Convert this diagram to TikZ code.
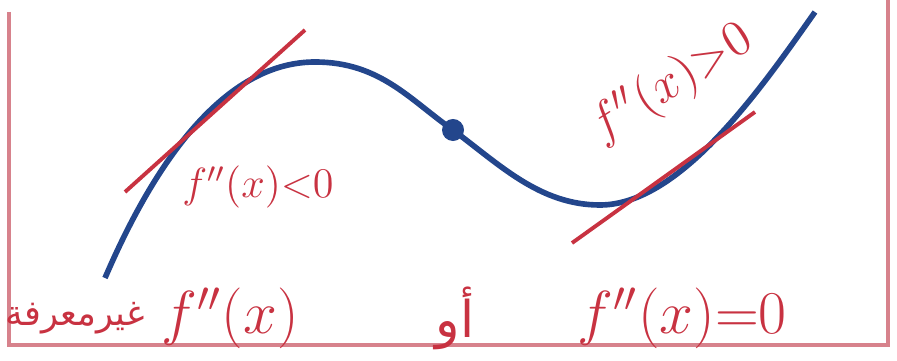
\documentclass[tikz,border=0pt]{standalone}
\usepackage{fontspec}
\usepackage{amsmath}
\newfontfamily\arabicfont[Script=Arabic]{DejaVu Sans}
\TeXXeTstate=1
\definecolor{inkred}{RGB}{200,50,65}
\definecolor{inkblue}{RGB}{35,70,140}
\definecolor{frame}{RGB}{215,130,140}
\usetikzlibrary{positioning}

\begin{document}
\begin{tikzpicture}[
  x=0.01cm, y=-0.01cm,
  curve/.style={inkblue, line width=1.6pt},
  tangent/.style={inkred, line width=1.1pt},
  lbl/.style={inkred, font=\LARGE, inner sep=0pt},
  dot/.style={circle, fill=inkblue, minimum size=2.2mm, inner sep=0pt}
]
\useasboundingbox (0,0) rectangle (897,361);
\draw[frame, line width=1pt] (9,12) -- (9,345) -- (888,345) -- (888,0);

% the S-shaped graph
\coordinate (start) at (105,278);
\coordinate (top) at (315,62);
\node[dot] (infl) at (453,130) {};
\coordinate (bottom) at (600,205);
\coordinate (end) at (815,12);
\draw[curve] (start) .. controls (160,150) and (230,62) .. (top)
  .. controls (380,62) and (410,100) .. (infl.center)
  .. controls (500,165) and (540,205) .. (bottom)
  .. controls (680,205) and (760,90) .. (end);

% tangents
\coordinate (t1a) at (125,192);
\coordinate (t1b) at (305,30);
\coordinate (t2a) at (572,243);
\coordinate (t2b) at (755,112);
\draw[tangent] (t1a) -- (t1b);
\draw[tangent] (t2a) -- (t2b);

% labels
\node[lbl, font=\large] (concave) at (258,187) {$f''(x){<}0$};
\node[lbl, font=\Large, rotate=32] (convex) at (672,84) {$f''(x){>}0$};
\node[lbl] (undef) at (230,318) {$f''(x)$};
\node[lbl, font=\normalsize, left=1.5mm of undef] (word) {\arabicfont\beginR غيرمعرفة\endR};
\node[lbl, font=\Large] (or) at (455,318) {\arabicfont\beginR أو\endR};
\node[lbl] (zero) at (682,318) {$f''(x){=}0$};
\end{tikzpicture}
\end{document}
